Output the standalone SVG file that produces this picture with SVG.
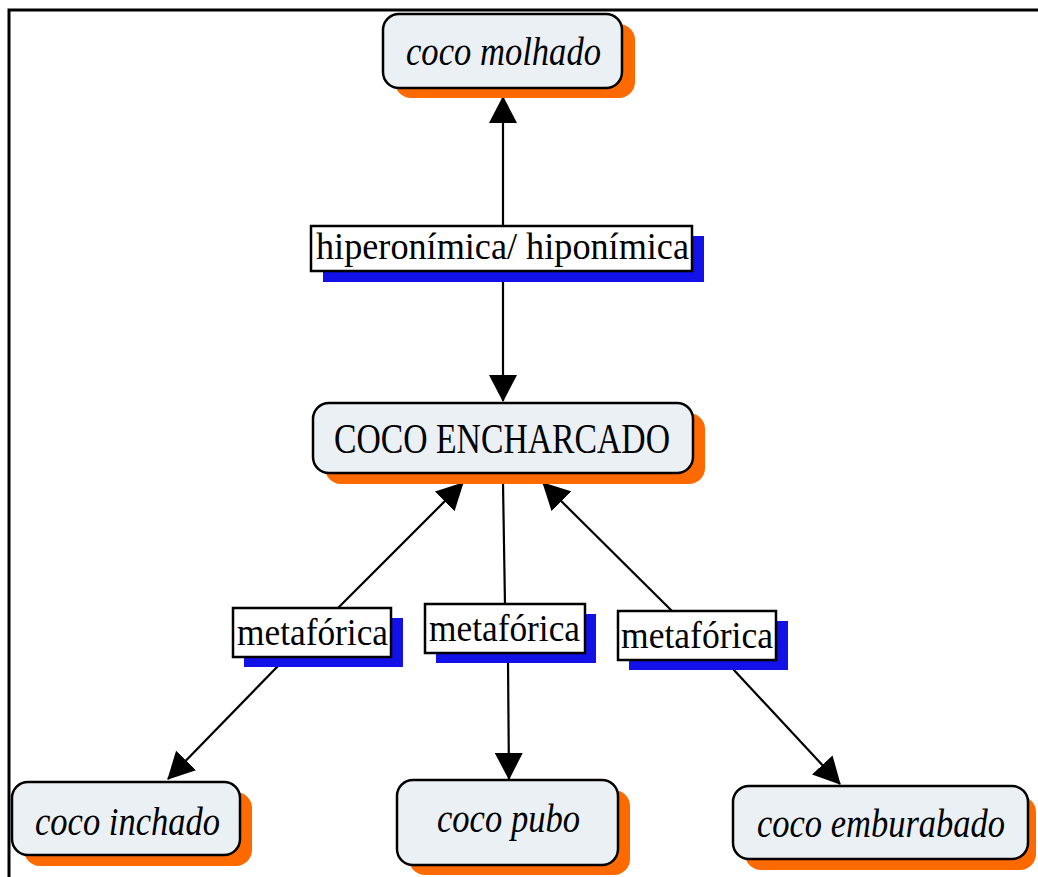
<svg xmlns="http://www.w3.org/2000/svg" width="1038" height="877" viewBox="0 0 1038 877">
  <style>
    .shadow { fill: #ff6a00; }
    .node { fill: #ebf0f4; stroke: #000; stroke-width: 2.5; }
    .lshadow { fill: #1212e8; }
    .lbox { fill: #fff; stroke: #000; stroke-width: 2.5; }
    .it { font-family: "Liberation Serif", serif; font-style: italic; font-size: 40px; fill: #000; text-anchor: start; }
    .up { font-family: "Liberation Serif", serif; font-size: 37px; fill: #000; text-anchor: start; }
    .cap { font-family: "Liberation Serif", serif; font-size: 42px; fill: #000; text-anchor: start; }
    .conn line { stroke: #000; stroke-width: 2.2; }
  </style>
  <defs>
    <marker id="arrow" markerUnits="userSpaceOnUse" markerWidth="27" markerHeight="28" refX="26" refY="14" orient="auto">
      <path d="M0,0 L27,14 L0,28 Z" fill="#000"/>
    </marker>
  </defs>

  <rect width="1038" height="877" fill="#fff"/>
  <!-- page frame -->
  <path d="M9,877 V10 H1038" fill="none" stroke="#000" stroke-width="3"/>

  <!-- connectors -->
  <g id="connectors" class="conn">
    <line x1="503" y1="228" x2="503" y2="97" marker-end="url(#arrow)"/>
    <line x1="503" y1="270" x2="503" y2="401" marker-end="url(#arrow)"/>
    <line x1="338" y1="608" x2="463" y2="483" marker-end="url(#arrow)"/>
    <line x1="503" y1="483" x2="505" y2="605"/>
    <line x1="672" y1="611" x2="543" y2="483" marker-end="url(#arrow)"/>
    <line x1="278" y1="666" x2="168" y2="779" marker-end="url(#arrow)"/>
    <line x1="508" y1="662" x2="509" y2="779" marker-end="url(#arrow)"/>
    <line x1="733" y1="669" x2="840" y2="784" marker-end="url(#arrow)"/>
  </g>

  <!-- linking phrases -->
  <g id="label-hiper">
    <rect class="lshadow" x="323" y="236" width="381" height="46"/>
    <rect class="lbox" x="311" y="226" width="381" height="45"/>
    <text class="up" x="316" y="259" textLength="373" lengthAdjust="spacingAndGlyphs">hiperonímica/ hiponímica</text>
  </g>
  <g id="label-meta1">
    <rect class="lshadow" x="244" y="618" width="159" height="49"/>
    <rect class="lbox" x="233" y="608" width="158" height="49"/>
    <text class="up" x="237" y="645" textLength="151" lengthAdjust="spacingAndGlyphs">metafórica</text>
  </g>
  <g id="label-meta2">
    <rect class="lshadow" x="436" y="614" width="160" height="49"/>
    <rect class="lbox" x="425" y="604" width="160" height="49"/>
    <text class="up" x="429" y="641" textLength="151" lengthAdjust="spacingAndGlyphs">metafórica</text>
  </g>
  <g id="label-meta3">
    <rect class="lshadow" x="629" y="621" width="159" height="49"/>
    <rect class="lbox" x="618" y="611" width="158" height="49"/>
    <text class="up" x="621" y="648" textLength="152" lengthAdjust="spacingAndGlyphs">metafórica</text>
  </g>

  <!-- concepts -->
  <g id="node-molhado">
    <rect class="shadow" x="395" y="24" width="240" height="74" rx="16"/>
    <rect class="node" x="383" y="14" width="239" height="74" rx="16"/>
    <text class="it" x="406" y="65" textLength="195" lengthAdjust="spacingAndGlyphs">coco molhado</text>
  </g>
  <g id="node-encharcado">
    <rect class="shadow" x="325" y="413" width="380" height="71" rx="16"/>
    <rect class="node" x="313" y="403" width="380" height="70" rx="16"/>
    <text class="cap" x="334" y="453" textLength="336" lengthAdjust="spacingAndGlyphs">COCO ENCHARCADO</text>
  </g>
  <g id="node-inchado">
    <rect class="shadow" x="24" y="792" width="228" height="74" rx="16"/>
    <rect class="node" x="12" y="782" width="228" height="73" rx="16"/>
    <text class="it" x="35" y="835" textLength="185" lengthAdjust="spacingAndGlyphs">coco inchado</text>
  </g>
  <g id="node-pubo">
    <rect class="shadow" x="409" y="790" width="221" height="85" rx="16"/>
    <rect class="node" x="397" y="780" width="221" height="85" rx="16"/>
    <text class="it" x="437" y="832" textLength="143" lengthAdjust="spacingAndGlyphs">coco pubo</text>
  </g>
  <g id="node-emburabado">
    <rect class="shadow" x="745" y="796" width="291" height="74" rx="16"/>
    <rect class="node" x="733" y="786" width="295" height="73" rx="16"/>
    <text class="it" x="757" y="837" font-size="37" textLength="248" lengthAdjust="spacingAndGlyphs">coco emburabado</text>
  </g>
</svg>
